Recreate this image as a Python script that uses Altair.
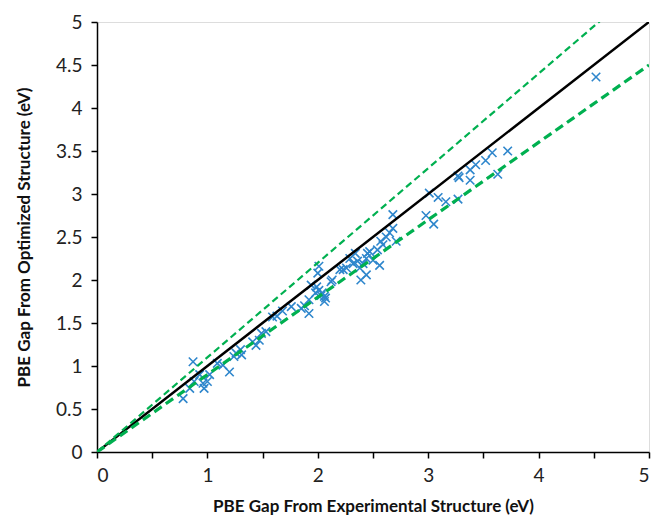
import altair as alt
import pandas as pd

# PBE band gaps (eV): experimental structure vs. optimized structure
exp_gap = [0.78, 0.84, 0.87, 0.88, 0.93, 0.96, 0.97, 1.00, 1.02, 1.09,
           1.14, 1.20, 1.24, 1.26, 1.30, 1.31, 1.41, 1.44, 1.47, 1.49,
           1.53, 1.59, 1.63, 1.68, 1.76, 1.85, 1.88, 1.92, 1.92, 1.94,
           1.98, 1.99, 2.00, 2.01, 2.01, 2.03, 2.04, 2.06, 2.06, 2.07,
           2.12, 2.13, 2.20, 2.23, 2.26, 2.29, 2.32, 2.34, 2.36, 2.38,
           2.39, 2.41, 2.44, 2.44, 2.45, 2.47, 2.50, 2.54, 2.56, 2.57,
           2.59, 2.62, 2.65, 2.68, 2.68, 2.71, 2.98, 3.01, 3.05, 3.09,
           3.16, 3.27, 3.27, 3.28, 3.38, 3.38, 3.43, 3.52, 3.58, 3.63,
           3.72, 4.52]
opt_gap = [0.62, 0.74, 1.05, 0.82, 0.90, 0.80, 0.74, 0.82, 0.90, 1.03,
           1.01, 0.93, 1.11, 1.15, 1.19, 1.13, 1.28, 1.24, 1.30, 1.38,
           1.40, 1.57, 1.58, 1.64, 1.69, 1.67, 1.70, 1.61, 1.77, 1.94,
           1.85, 1.92, 2.08, 2.16, 1.88, 1.82, 1.85, 1.81, 1.75, 1.79,
           1.98, 2.00, 2.12, 2.12, 2.14, 2.25, 2.19, 2.31, 2.22, 2.14,
           2.00, 2.19, 2.25, 2.06, 2.31, 2.33, 2.23, 2.35, 2.17, 2.45,
           2.41, 2.50, 2.55, 2.60, 2.76, 2.45, 2.75, 3.01, 2.65, 2.96,
           2.91, 2.94, 3.21, 3.19, 3.28, 3.16, 3.34, 3.39, 3.48, 3.23,
           3.50, 4.36]

# Reference lines: parity (y = x) and +/-10% bounds
line_x = [0, 5]
parity_y = [0, 5]
upper_y = [0, 5.5]
lower_y = [0, 4.5]

points = pd.DataFrame({"exp": exp_gap, "opt": opt_gap})
parity = pd.DataFrame({"x": line_x, "y": parity_y})
upper = pd.DataFrame({"x": line_x, "y": upper_y})
lower = pd.DataFrame({"x": line_x, "y": lower_y})

FONT = "Lato"
ticks = [i * 0.5 for i in range(11)]

x_scale = alt.Scale(domain=[0, 5], nice=False, zero=True)
y_scale = alt.Scale(domain=[0, 5], nice=False, zero=True)

x_axis = alt.Axis(
    title="PBE Gap From Experimental Structure (eV)",
    values=ticks,
    labelExpr="datum.value % 1 === 0 ? format(datum.value, '~g') : ''",
    grid=False, domainColor="black", domainWidth=1.5,
    tickColor="black", tickWidth=1.5, tickSize=6,
    labelFont=FONT, labelFontSize=19, labelColor="#222222", labelPadding=8,
    titleFont=FONT, titleFontSize=17, titleFontWeight="bold",
    titleColor="#111111", titlePadding=13,
)
y_axis = alt.Axis(
    title="PBE Gap From Optimized Structure (eV)",
    values=ticks, format="~g",
    grid=False, domainColor="black", domainWidth=1.5,
    tickColor="black", tickWidth=1.5, tickSize=6,
    labelFont=FONT, labelFontSize=19, labelColor="#222222", labelPadding=9,
    titleFont=FONT, titleFontSize=17, titleFontWeight="bold",
    titleColor="#111111", titlePadding=22,
)

cross_path = "M-1,-1L1,1M-1,1L1,-1"

scatter = alt.Chart(points).mark_point(
    shape=cross_path, filled=False, size=72, strokeWidth=1.6,
    color="#2E86CC", opacity=1,
).encode(
    x=alt.X("exp:Q", scale=x_scale, axis=x_axis),
    y=alt.Y("opt:Q", scale=y_scale, axis=y_axis),
)

def ref_line(df, color, width, dash=None):
    kwargs = dict(color=color, strokeWidth=width, clip=True)
    if dash:
        kwargs["strokeDash"] = dash
    return alt.Chart(df).mark_line(**kwargs).encode(
        x=alt.X("x:Q", scale=x_scale),
        y=alt.Y("y:Q", scale=y_scale),
    )

chart = alt.layer(
    scatter,
    ref_line(parity, "black", 2.5),
    ref_line(upper, "#00B050", 2.2, [7, 4]),
    ref_line(lower, "#00B050", 3.2, [9, 5]),
).properties(
    width=552, height=430,
    padding={"left": 97, "top": 22, "right": 3, "bottom": 64},
    autosize=alt.AutoSizeParams(type="none"),
).configure_view(
    stroke="black", strokeWidth=1.5,
).configure(background="white")

chart.save("out.html", embed_options={"renderer": "svg", "actions": False})
